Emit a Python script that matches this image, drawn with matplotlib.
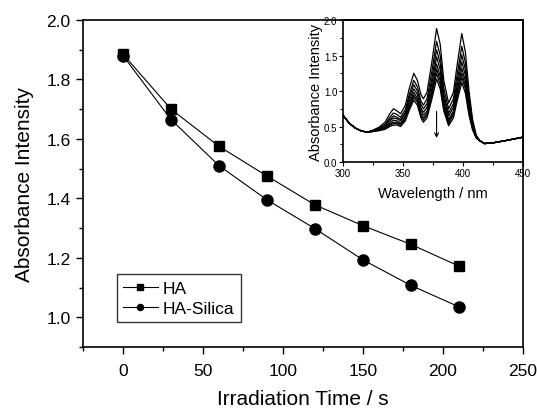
import numpy as np
import matplotlib
matplotlib.use('Agg')
import matplotlib.pyplot as plt

plt.rcParams['font.family'] = ['Liberation Sans', 'DejaVu Sans']

# ---- main panel data: absorbance vs irradiation time ----
time_s = [0, 30, 60, 90, 120, 150, 180, 210]
abs_ha = [1.885, 1.700, 1.575, 1.475, 1.378, 1.308, 1.245, 1.172]
abs_ha_silica = [1.880, 1.665, 1.510, 1.395, 1.298, 1.193, 1.107, 1.035]

# ---- inset data: absorption spectra (one row per irradiation time) ----
wl_head = [300, 305, 310, 315, 320]
abs_head = [0.66, 0.55, 0.48, 0.44, 0.42]
wl_mid = [325, 330, 335, 339, 342, 345, 348, 352, 355, 359, 362, 365, 367,
          370, 374, 378, 381, 384, 388, 392, 395, 399, 402, 405, 408, 411]
spectra_mid = [
    [0.45, 0.49, 0.56, 0.68, 0.75, 0.72, 0.68, 0.80, 1.02, 1.25, 1.15, 0.95, 0.89,
     0.98, 1.40, 1.88, 1.66, 1.15, 0.83, 0.98, 1.35, 1.81, 1.55, 1.00, 0.60, 0.38],
    [0.44, 0.48, 0.53, 0.63, 0.69, 0.67, 0.63, 0.74, 0.94, 1.15, 1.06, 0.86, 0.80,
     0.89, 1.27, 1.70, 1.50, 1.04, 0.75, 0.89, 1.22, 1.63, 1.40, 0.91, 0.56, 0.37],
    [0.44, 0.47, 0.52, 0.60, 0.65, 0.63, 0.60, 0.70, 0.89, 1.09, 1.00, 0.81, 0.75,
     0.82, 1.17, 1.58, 1.39, 0.96, 0.69, 0.82, 1.13, 1.51, 1.30, 0.85, 0.54, 0.36],
    [0.44, 0.46, 0.50, 0.58, 0.62, 0.61, 0.58, 0.67, 0.85, 1.03, 0.95, 0.76, 0.70,
     0.77, 1.10, 1.48, 1.30, 0.90, 0.65, 0.77, 1.06, 1.41, 1.22, 0.81, 0.51, 0.36],
    [0.44, 0.45, 0.49, 0.55, 0.59, 0.58, 0.55, 0.64, 0.81, 0.98, 0.90, 0.72, 0.66,
     0.72, 1.03, 1.38, 1.21, 0.84, 0.60, 0.72, 0.99, 1.32, 1.14, 0.76, 0.49, 0.35],
    [0.43, 0.45, 0.48, 0.53, 0.56, 0.56, 0.53, 0.62, 0.78, 0.94, 0.87, 0.68, 0.62,
     0.69, 0.98, 1.31, 1.15, 0.80, 0.57, 0.69, 0.95, 1.25, 1.08, 0.73, 0.48, 0.35],
    [0.43, 0.45, 0.47, 0.52, 0.54, 0.54, 0.52, 0.60, 0.75, 0.91, 0.84, 0.65, 0.59,
     0.66, 0.93, 1.25, 1.09, 0.76, 0.54, 0.66, 0.90, 1.19, 1.03, 0.70, 0.47, 0.34],
    [0.43, 0.44, 0.46, 0.50, 0.52, 0.52, 0.50, 0.58, 0.72, 0.87, 0.80, 0.62, 0.56,
     0.62, 0.88, 1.17, 1.03, 0.72, 0.51, 0.62, 0.85, 1.12, 0.97, 0.66, 0.45, 0.34],
]
wl_tail = [414, 418, 425, 435, 450]
abs_tail = [0.30, 0.26, 0.27, 0.30, 0.35]

fig = plt.figure(figsize=(5.37, 4.10), dpi=100)
ax = fig.add_axes([0.1546, 0.1512, 0.8194, 0.7976])

ax.plot(time_s, abs_ha, color='black', linewidth=0.8, marker='s', markersize=7.5,
        label='HA')
ax.plot(time_s, abs_ha_silica, color='black', linewidth=0.8, marker='o', markersize=8,
        label='HA-Silica')

ax.set_xlim(-25, 250)
ax.set_ylim(0.9, 2.0)
ax.set_xticks([0, 50, 100, 150, 200, 250])
ax.set_xticks(np.arange(-25, 251, 25), minor=True)
ax.set_yticks([1.0, 1.2, 1.4, 1.6, 1.8, 2.0])
ax.set_yticks(np.arange(0.9, 2.01, 0.1), minor=True)
ax.tick_params(which='major', direction='out', length=5, width=1, labelsize=12.5)
ax.tick_params(which='minor', direction='out', length=3, width=1)
ax.tick_params(axis='x', which='major', pad=6.5)
ax.tick_params(axis='y', which='major', pad=4)
for s in ax.spines.values():
    s.set_linewidth(1.2)
ax.set_xlabel('Irradiation Time / s', fontsize=15, labelpad=8)
ax.set_ylabel('Absorbance Intensity', fontsize=15, labelpad=9)

leg = ax.legend(loc='lower left', bbox_to_anchor=(0.077, 0.076), borderaxespad=0,
                fontsize=12.5, frameon=True, fancybox=False, edgecolor='black',
                handlelength=2.0, handletextpad=0.3, borderpad=0.35, labelspacing=0.3,
                markerscale=0.55)
leg.get_frame().set_linewidth(1.0)

# ---- inset ----
axi = fig.add_axes([0.6387, 0.6024, 0.3352, 0.3463])
for row in spectra_mid:
    wl = wl_head + wl_mid + wl_tail
    y = abs_head + row + abs_tail
    axi.plot(wl, y, color='black', linewidth=0.9)
axi.annotate('', xy=(378, 0.30), xytext=(378, 0.75),
             arrowprops=dict(arrowstyle='->', color='black', lw=0.8, mutation_scale=7))
axi.set_xlim(300, 450)
axi.set_ylim(0, 2.0)
axi.set_xticks([300, 350, 400, 450])
axi.set_xticks(np.arange(300, 451, 25), minor=True)
axi.set_yticks([0.0, 0.5, 1.0, 1.5, 2.0])
axi.set_yticks(np.arange(0, 2.01, 0.25), minor=True)
axi.tick_params(which='major', direction='out', length=3, width=0.8, labelsize=7, pad=1)
axi.tick_params(which='minor', direction='out', length=2, width=0.8)
for s in axi.spines.values():
    s.set_linewidth(1.2)
axi.set_xlabel('Wavelength / nm', fontsize=10.5, labelpad=6)
axi.set_ylabel('Absorbance Intensity', fontsize=10.5, labelpad=1)
axi.patch.set_alpha(0)

fig.savefig('out.png', dpi=100)
